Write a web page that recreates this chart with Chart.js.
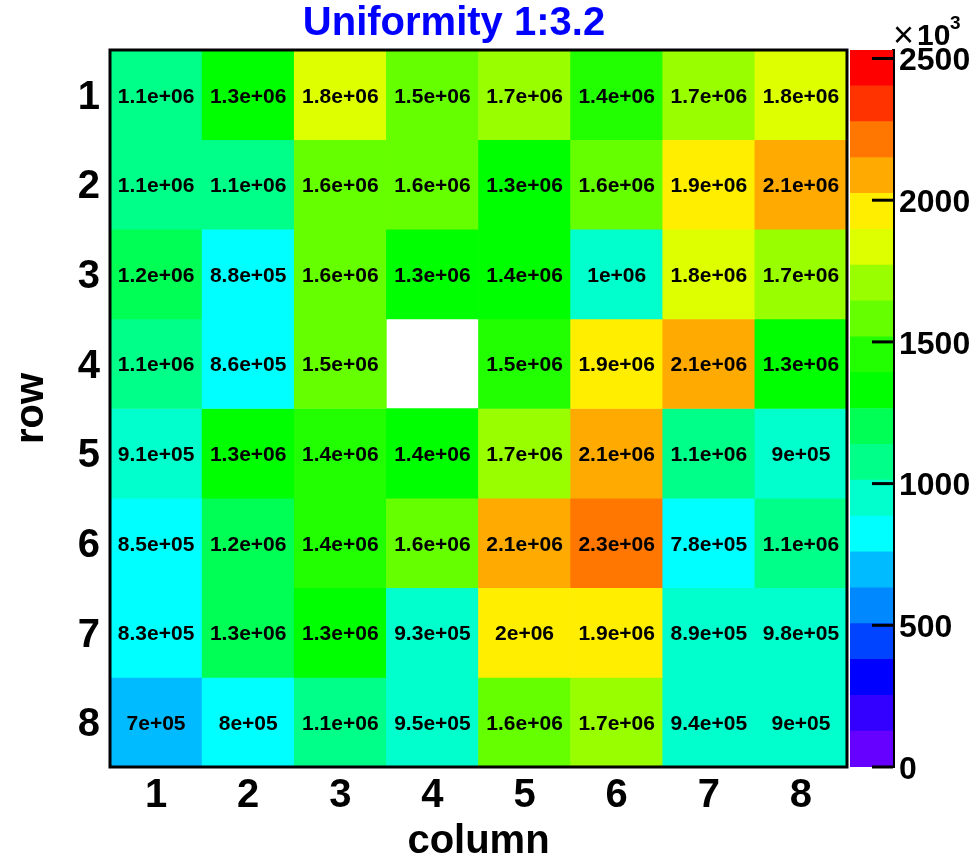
<!DOCTYPE html>
<html lang="en">
<head>
<meta charset="UTF-8" />
<title>Uniformity 1:3.2</title>
<script src="https://cdn.jsdelivr.net/npm/chart.js"></script>
<style>
  body { margin: 0; background: #fff; overflow: hidden; }
  #wrap { position: relative; width: 976px; height: 858px; }
  #mapChart { position: absolute; left: 0; top: 0; }
  #scaleChart { position: absolute; left: 845px; top: 0; }
</style>
</head>
<body>
<div id="wrap">
  <canvas id="mapChart" width="976" height="858"></canvas>
  <canvas id="scaleChart" width="131" height="858"></canvas>
</div>
<script>
  const columns = ['1', '2', '3', '4', '5', '6', '7', '8'];
  const rowNumbers = [1, 2, 3, 4, 5, 6, 7, 8];

  // counts per cell (null = empty cell)
  const row1 = [1.10e6, 1.30e6, 1.80e6, 1.53e6, 1.70e6, 1.42e6, 1.70e6, 1.80e6];
  const row2 = [1.10e6, 1.10e6, 1.60e6, 1.60e6, 1.30e6, 1.60e6, 1.92e6, 2.10e6];
  const row3 = [1.20e6, 0.88e6, 1.60e6, 1.30e6, 1.37e6, 1.00e6, 1.80e6, 1.70e6];
  const row4 = [1.10e6, 0.86e6, 1.53e6, null, 1.48e6, 1.92e6, 2.10e6, 1.30e6];
  const row5 = [0.91e6, 1.30e6, 1.42e6, 1.37e6, 1.70e6, 2.10e6, 1.10e6, 0.90e6];
  const row6 = [0.85e6, 1.20e6, 1.42e6, 1.60e6, 2.10e6, 2.26e6, 0.78e6, 1.10e6];
  const row7 = [0.83e6, 1.26e6, 1.30e6, 0.93e6, 2.00e6, 1.92e6, 0.89e6, 0.98e6];
  const row8 = [0.70e6, 0.80e6, 1.10e6, 0.95e6, 1.60e6, 1.70e6, 0.94e6, 0.90e6];
  const rows = [row1, row2, row3, row4, row5, row6, row7, row8];

  const zMax = 2.53e6;
  const scaleTicks = [0, 500, 1000, 1500, 2000, 2500]; // x10^3
  const palette = ['#6600ff', '#3300ff', '#0000ff', '#0044ff', '#0088ff', '#00bbff', '#00ffff',
    '#00ffcc', '#00ff88', '#00ff55', '#00ff00', '#22ff00', '#66ff00', '#99ff00', '#ddff00',
    '#ffee00', '#ffaa00', '#ff7700', '#ff3300', '#ff0000'];

  const FONT = '"Liberation Sans", Arial, Helvetica, sans-serif';
  const levelWidth = zMax / palette.length;

  function colorFor(v) {
    if (v == null) return 'rgba(0,0,0,0)';
    const i = Math.min(palette.length - 1, Math.max(0, Math.floor(v / levelWidth)));
    return palette[i];
  }

  // ROOT style "1.1e+06"
  function fmt(v) {
    let [m, e] = v.toExponential(1).split('e');
    m = m.replace(/\.0$/, '');
    return m + 'e' + e[0] + e.slice(1).padStart(2, '0');
  }

  const cellText = {
    id: 'cellText',
    afterDatasetsDraw(chart) {
      const ctx = chart.ctx;
      ctx.save();
      ctx.font = 'bold 21px ' + FONT;
      ctx.fillStyle = '#000';
      ctx.textAlign = 'center';
      ctx.textBaseline = 'middle';
      chart.data.datasets.forEach((ds, r) => {
        chart.getDatasetMeta(r).data.forEach((bar, c) => {
          const v = rows[r][c];
          if (v == null) return;
          ctx.fillText(fmt(v), bar.x, (bar.y + bar.base) / 2 + 2);
        });
      });
      ctx.restore();
    }
  };

  const frame = {
    id: 'frame',
    afterDraw(chart) {
      const a = chart.chartArea, ctx = chart.ctx;
      ctx.save();
      ctx.strokeStyle = '#000';
      ctx.lineWidth = 3;
      ctx.strokeRect(a.left, a.top, a.right - a.left, a.bottom - a.top);
      ctx.fillStyle = '#0000ff';
      ctx.font = 'bold 40px ' + FONT;
      ctx.textAlign = 'center';
      ctx.textBaseline = 'alphabetic';
      ctx.fillText('Uniformity 1:3.2', 454, 35);
      ctx.restore();
    }
  };

  new Chart(document.getElementById('mapChart'), {
    type: 'bar',
    data: {
      labels: columns,
      datasets: rows.map((vals, r) => ({
        label: 'row ' + rowNumbers[r],
        data: vals.map(v => v == null ? null : [rowNumbers[r] - 0.5, rowNumbers[r] + 0.5]),
        backgroundColor: vals.map(colorFor),
        borderWidth: 0,
        grouped: false,
        barPercentage: 1,
        categoryPercentage: 1
      }))
    },
    options: {
      responsive: false,
      animation: false,
      layout: { padding: { left: 0, top: 50, right: 129, bottom: 0 } },
      plugins: { legend: { display: false }, tooltip: { enabled: false } },
      scales: {
        x: {
          grid: { display: false, drawTicks: false },
          border: { display: false },
          ticks: { color: '#000', font: { family: FONT, size: 40, weight: 'bold' }, padding: 5 },
          title: { display: true, text: 'column', color: '#000', font: { family: FONT, size: 40, weight: 'bold' }, padding: { top: 0, bottom: -8 } },
          afterFit: s => { s.height = 91; }
        },
        y: {
          type: 'linear',
          min: 0.5,
          max: 8.5,
          reverse: true,
          afterBuildTicks: s => { s.ticks = rowNumbers.map(v => ({ value: v })); },
          grid: { display: false, drawTicks: false },
          border: { display: false },
          ticks: { color: '#000', font: { family: FONT, size: 40, weight: 'bold' }, padding: 10, labelOffset: 3 },
          title: { display: true, text: 'row', color: '#000', font: { family: FONT, size: 40, weight: 'bold' }, padding: 8 },
          afterFit: s => { s.width = 110; }
        }
      }
    },
    plugins: [cellText, frame]
  });

  const scaleMarks = {
    id: 'scaleMarks',
    afterDraw(chart) {
      const s = chart.scales.y, a = chart.chartArea, ctx = chart.ctx;
      ctx.save();
      ctx.strokeStyle = '#000';
      ctx.lineWidth = 3;
      s.ticks.forEach(t => {
        const y = s.getPixelForValue(t.value);
        ctx.beginPath();
        ctx.moveTo(a.right - 21, y);
        ctx.lineTo(a.right, y);
        ctx.stroke();
      });
      ctx.fillStyle = '#000';
      ctx.textBaseline = 'alphabetic';
      ctx.font = '36px ' + FONT;
      ctx.fillText('\u00d7', a.right, 47);
      ctx.font = 'bold 30px ' + FONT;
      ctx.fillText('10', a.right + 24, 45);
      ctx.font = 'bold 19px ' + FONT;
      ctx.fillText('3', a.right + 57, 29);
      ctx.restore();
    }
  };

  new Chart(document.getElementById('scaleChart'), {
    type: 'bar',
    data: {
      labels: [''],
      datasets: palette.map((col, i) => ({
        data: [[i * levelWidth / 1000, (i + 1) * levelWidth / 1000]],
        backgroundColor: col,
        borderWidth: 0,
        grouped: false,
        barPercentage: 1,
        categoryPercentage: 1
      }))
    },
    options: {
      responsive: false,
      animation: false,
      layout: { padding: { left: 5, top: 50, right: 0, bottom: 91 } },
      plugins: { legend: { display: false }, tooltip: { enabled: false } },
      scales: {
        x: { display: false },
        y: {
          position: 'right',
          min: 0,
          max: zMax / 1000,
          afterBuildTicks: s => { s.ticks = scaleTicks.map(v => ({ value: v })); },
          grid: { display: false, drawTicks: false },
          border: { display: true, color: '#000', width: 3 },
          ticks: { color: '#000', font: { family: FONT, size: 32, weight: 'bold' }, padding: 6, labelOffset: 3, callback: v => String(v) },
          afterFit: s => { s.width = 83; }
        }
      }
    },
    plugins: [scaleMarks]
  });
</script>
</body>
</html>
